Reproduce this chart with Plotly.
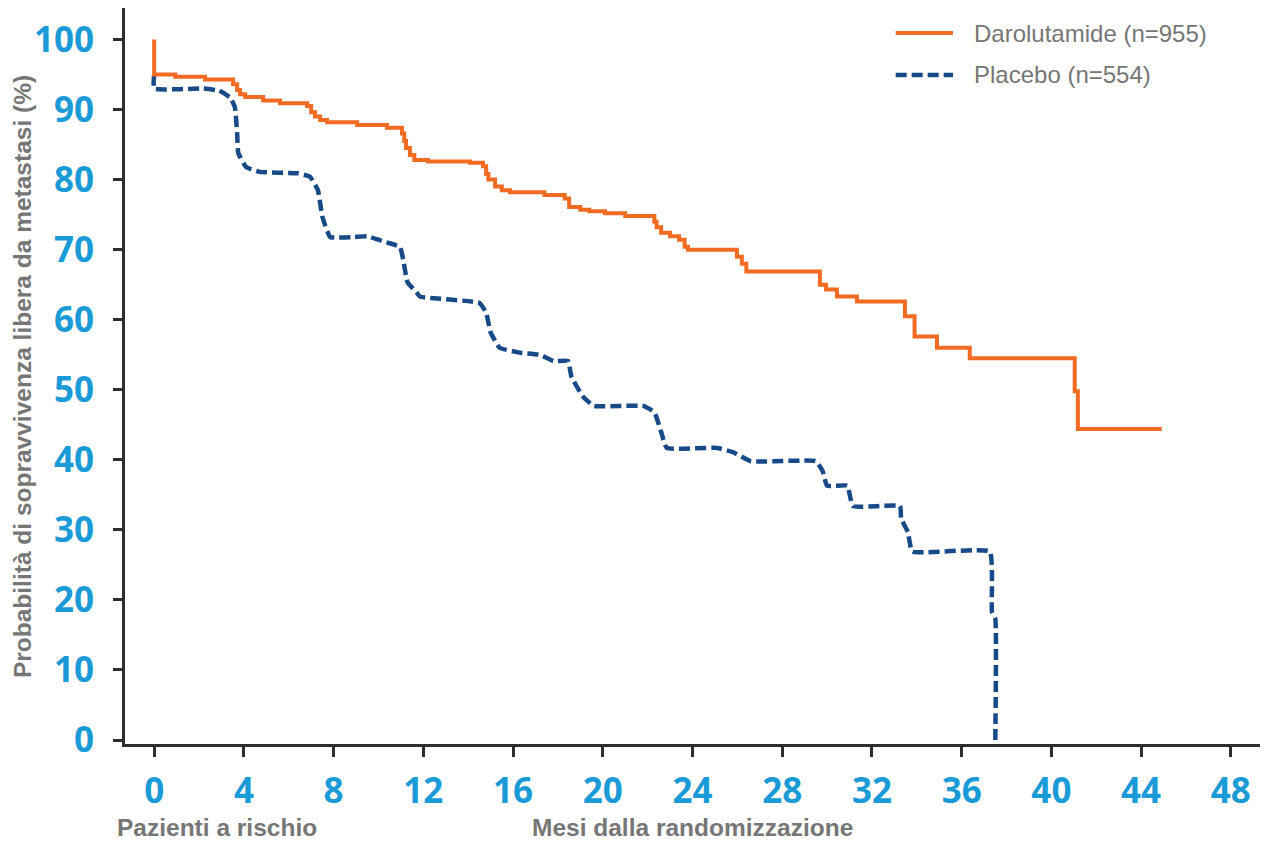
import plotly.graph_objects as go

# Darolutamide KM curve (months, % metastasis-free survival), step function
daro_t = [0, 0, 0.94, 2.27, 3.52, 3.7, 3.83, 4.06, 4.86, 5.61, 6.82, 7.0, 7.17, 7.4, 7.71,
          9.05, 10.38, 11.05, 11.15, 11.23, 11.4, 11.6, 12.2, 14.08, 14.66, 14.8, 14.9, 15.2,
          15.5, 15.86, 17.4, 18.3, 18.5, 19.0, 19.4, 20.1, 21.0, 22.3, 22.4, 22.6, 23.0, 23.4,
          23.65, 23.8, 25.98, 26.2, 26.4, 29.68, 29.95, 30.44, 31.33, 33.47, 33.9, 34.9, 36.36,
          41.04, 41.18, 44.92]
daro_s = [100, 95.0, 94.7, 94.3, 93.6, 92.8, 92.2, 91.8, 91.3, 90.9, 90.5, 89.6, 89.0, 88.5, 88.2,
          87.8, 87.4, 86.6, 85.5, 84.5, 83.5, 82.8, 82.6, 82.4, 81.9, 80.8, 80.0, 79.0,
          78.5, 78.2, 77.8, 77.3, 76.1, 75.7, 75.5, 75.2, 74.8, 74.0, 73.2, 72.4, 71.9, 71.4,
          70.4, 70.0, 69.0, 68.0, 66.9, 65.0, 64.3, 63.3, 62.6, 60.5, 57.6, 56.0, 54.5,
          49.8, 44.4, 44.4]

# Placebo KM curve (months, %)
plac_t = [0, 0, 2.2, 2.9, 3.4, 3.6, 3.7, 3.75, 4.1, 4.7, 6.4, 6.95, 7.3, 7.5, 7.85, 8.9, 9.5,
          10.4, 10.96, 11.1, 11.3, 11.7, 11.85, 14.5, 14.8, 15.0, 15.4, 16.3, 17.2, 17.8, 18.45,
          18.6, 19.1, 19.6, 21.8, 22.3, 22.6, 22.85, 25.1, 25.8, 26.6, 29.5, 29.8, 30.0, 30.9,
          31.15, 33.25, 33.3, 33.6, 33.8, 37.25, 37.35, 37.5, 37.5]
plac_s = [95, 93.0, 93.0, 92.7, 91.7, 90.3, 86.6, 83.8, 81.8, 81.1, 80.9, 80.4, 78.5, 74.7, 71.8,
          71.8, 71.9, 71.0, 70.4, 68.6, 65.3, 63.9, 63.3, 62.4, 61.0, 58.2, 56.0, 55.3, 55.0,
          54.1, 54.1, 51.9, 49.1, 47.7, 47.7, 46.8, 44.0, 41.7, 41.7, 41.1, 39.8, 39.8, 38.4,
          36.3, 36.3, 33.4, 33.4, 31.6, 29.7, 26.9, 26.9, 18.3, 17.3, 0]

x_ticks = [0, 4, 8, 12, 16, 20, 24, 28, 32, 36, 40, 44, 48]
y_ticks = [0, 10, 20, 30, 40, 50, 60, 70, 80, 90, 100]

series_names = ["Darolutamide (n=955)", "Placebo (n=554)"]

ORANGE = "#F26B22"
NAVY = "#174A87"
AXIS = "#2E2E2E"
TICKBLUE = "#1A9BD7"
GREY = "#767676"
TITLE_FONT = dict(family="Liberation Sans", size=24.5, color=GREY)

fig = go.Figure()
fig.add_trace(go.Scatter(x=plac_t, y=plac_s, mode="lines", name=series_names[1],
                         line=dict(color=NAVY, width=4.5, dash="11px,5px",
                                   shape="spline", smoothing=0.35),
                         showlegend=False))
fig.add_trace(go.Scatter(x=daro_t, y=daro_s, mode="lines", name=series_names[0],
                         line=dict(color=ORANGE, width=4, shape="hv"),
                         showlegend=False))

# manual legend (long line samples)
leg_y = [0.966, 0.909]
leg_styles = [dict(color=ORANGE, width=4), dict(color=NAVY, width=4.5, dash="11px,5px")]
for yy, st, nm in zip(leg_y, leg_styles, series_names):
    fig.add_shape(type="line", xref="paper", yref="paper", x0=0.679, x1=0.7295,
                  y0=yy, y1=yy, line=st)
    fig.add_annotation(xref="paper", yref="paper", x=0.746, y=yy, text=nm,
                       showarrow=False, xanchor="left", yanchor="middle",
                       font=dict(family="Liberation Sans", size=24, color=GREY))

# axis titles
fig.add_annotation(xref="paper", yref="paper", x=-0.009, y=-0.114, text="<b>Pazienti a rischio</b>",
                   showarrow=False, xanchor="left", yanchor="middle", font=TITLE_FONT)
fig.add_annotation(xref="paper", yref="paper", x=0.5, y=-0.114, text="<b>Mesi dalla randomizzazione</b>",
                   showarrow=False, xanchor="center", yanchor="middle", font=TITLE_FONT)
fig.add_annotation(xref="paper", yref="paper", x=-0.0907, y=0.4986, textangle=-90,
                   text="<b>Probabilità di sopravvivenza libera da metastasi (%)</b>",
                   showarrow=False, xanchor="center", yanchor="middle", font=TITLE_FONT)

# the page body adds an 8px offset; size the figure to fit the 1270x845 window
fig.update_layout(
    width=1262, height=837,
    margin=dict(l=117, r=10, t=0, b=101),
    paper_bgcolor="white", plot_bgcolor="white",
    xaxis=dict(
        range=[-1.3, 49.3], tickvals=x_ticks, ticktext=[str(v) for v in x_ticks],
        showgrid=False, zeroline=False, showline=True, linecolor=AXIS, linewidth=3,
        ticks="outside", ticklen=10, tickwidth=3, tickcolor=AXIS, automargin=False,
        tickfont=dict(family="Open Sans", size=35, color=TICKBLUE, weight="bold"),
        ticklabelstandoff=4,
    ),
    yaxis=dict(
        range=[-0.57, 104.5], tickvals=y_ticks, ticktext=[str(v) for v in y_ticks],
        showgrid=False, zeroline=False, showline=True, linecolor=AXIS, linewidth=3,
        ticks="outside", ticklen=9, tickwidth=3, tickcolor=AXIS, automargin=False,
        tickfont=dict(family="Open Sans", size=35, color=TICKBLUE, weight="bold"),
        ticklabelstandoff=12,
    ),
)

fig.write_html("out.html")
